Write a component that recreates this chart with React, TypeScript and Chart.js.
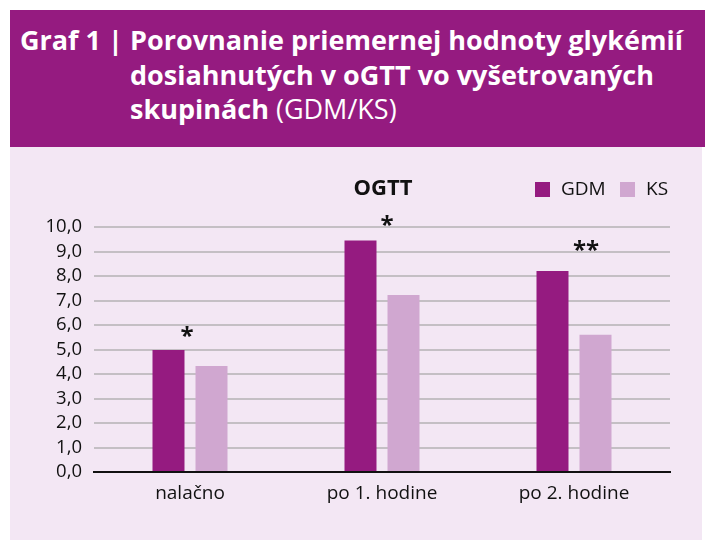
import React, { useEffect, useRef } from "react";
import { Chart, registerables } from "chart.js";

Chart.register(...registerables);

const categories = ["nalačno", "po 1. hodine", "po 2. hodine"];
const gdmValues = [4.98, 9.45, 8.2];
const ksValues = [4.33, 7.22, 5.6];
const significance = ["*", "*", "**"];
const significanceLevel = [5.7, 10.23, 9.2];
const yTicks = [0, 1, 2, 3, 4, 5, 6, 7, 8, 9, 10];
const seriesNames = ["GDM", "KS"];
const chartTitle = "OGTT";

const PURPLE = "#951b80";
const LILAC = "#d0a7d0";
const PANEL = "#f3e7f4";
const FONT = "'Open Sans', 'Noto Sans', sans-serif";

const overlayPlugin = {
  id: "overlay",
  afterDatasetsDraw(chart: any) {
    const ctx = chart.ctx;
    const x = chart.scales.x;
    const y = chart.scales.y;
    ctx.save();
    ctx.fillStyle = "#111";
    ctx.font = `bold 24px ${FONT}`;
    ctx.textAlign = "center";
    ctx.textBaseline = "middle";
    const offs = [-3, 5, 12];
    significance.forEach((s, i) => {
      const cx = x.getPixelForValue(i) + offs[i];
      const cy = y.getPixelForValue(significanceLevel[i]) + 5;
      ctx.fillText(s, cx, cy);
    });
    ctx.font = `bold 22px ${FONT}`;
    ctx.fillText(chartTitle, 373, 42);
    const colors = [PURPLE, LILAC];
    const lx = [525, 610];
    ctx.font = `19px ${FONT}`;
    ctx.textAlign = "left";
    seriesNames.forEach((n, i) => {
      ctx.fillStyle = colors[i];
      ctx.fillRect(lx[i], 35, 15, 15);
      ctx.fillStyle = "#111";
      ctx.fillText(n, lx[i] + 26, 43);
    });
    ctx.restore();
  },
};

export default function App() {
  const ref = useRef<HTMLCanvasElement>(null);
  useEffect(() => {
    if (!ref.current) return;
    const chart = new Chart(ref.current, {
      type: "bar",
      data: {
        labels: categories,
        datasets: [
          {
            label: seriesNames[0],
            data: gdmValues,
            backgroundColor: PURPLE,
            categoryPercentage: 0.448,
            barPercentage: 0.744,
          },
          {
            label: seriesNames[1],
            data: ksValues,
            backgroundColor: LILAC,
            categoryPercentage: 0.448,
            barPercentage: 0.744,
          },
        ],
      },
      options: {
        animation: false,
        responsive: false,
        maintainAspectRatio: false,
        layout: { padding: { left: 0, right: 32, top: 80, bottom: 0 } },
        plugins: {
          legend: { display: false },
          title: { display: false },
          tooltip: { enabled: false },
        },
        scales: {
          x: {
            grid: { display: false, drawTicks: false },
            border: { display: true, color: "#111", width: 2 },
            ticks: {
              color: "#111",
              font: { family: FONT, size: 19 },
              padding: 10,
            },
            afterFit: (s: any) => {
              s.height = 68;
            },
          },
          y: {
            min: 0,
            max: 10,
            afterBuildTicks: (s: any) => {
              s.ticks = yTicks.map((v) => ({ value: v }));
            },
            grid: { color: "#c4bfc4", lineWidth: 2, drawTicks: false },
            border: { display: false },
            ticks: {
              autoSkip: false,
              stepSize: 1,
              color: "#111",
              font: { family: FONT, size: 18.5 },
              padding: 12,
              callback: (v: any) => Number(v).toFixed(1).replace(".", ","),
            },
            afterFit: (s: any) => {
              s.width = 84;
            },
          },
        },
      },
      plugins: [overlayPlugin],
    });
    return () => chart.destroy();
  }, []);

  return (
    <div style={{ position: "absolute", left: 0, top: 0, width: 705, height: 540, background: "#fff", overflow: "hidden" }}>
      <div
        style={{
          position: "absolute",
          left: 10,
          top: 10,
          width: 695,
          height: 137,
          background: PURPLE,
          color: "#fff",
          fontFamily: FONT,
          fontSize: 27,
          fontWeight: 700,
          lineHeight: "34.5px",
          whiteSpace: "nowrap",
        }}
      >
        <div style={{ position: "absolute", left: 10, top: 13 }}>Graf 1 |</div>
        <div style={{ position: "absolute", left: 120, top: 13 }}>
          Porovnanie priemernej hodnoty glykémií
          <br />
          dosiahnutých v oGTT vo vyšetrovaných
          <br />
          skupinách <span style={{ fontWeight: 400 }}>(GDM/KS)</span>
        </div>
      </div>
      <div style={{ position: "absolute", left: 10, top: 147, width: 692, height: 393, background: PANEL }}>
        <canvas ref={ref} width={692} height={393} style={{ display: "block", width: 692, height: 393 }} />
      </div>
    </div>
  );
}
